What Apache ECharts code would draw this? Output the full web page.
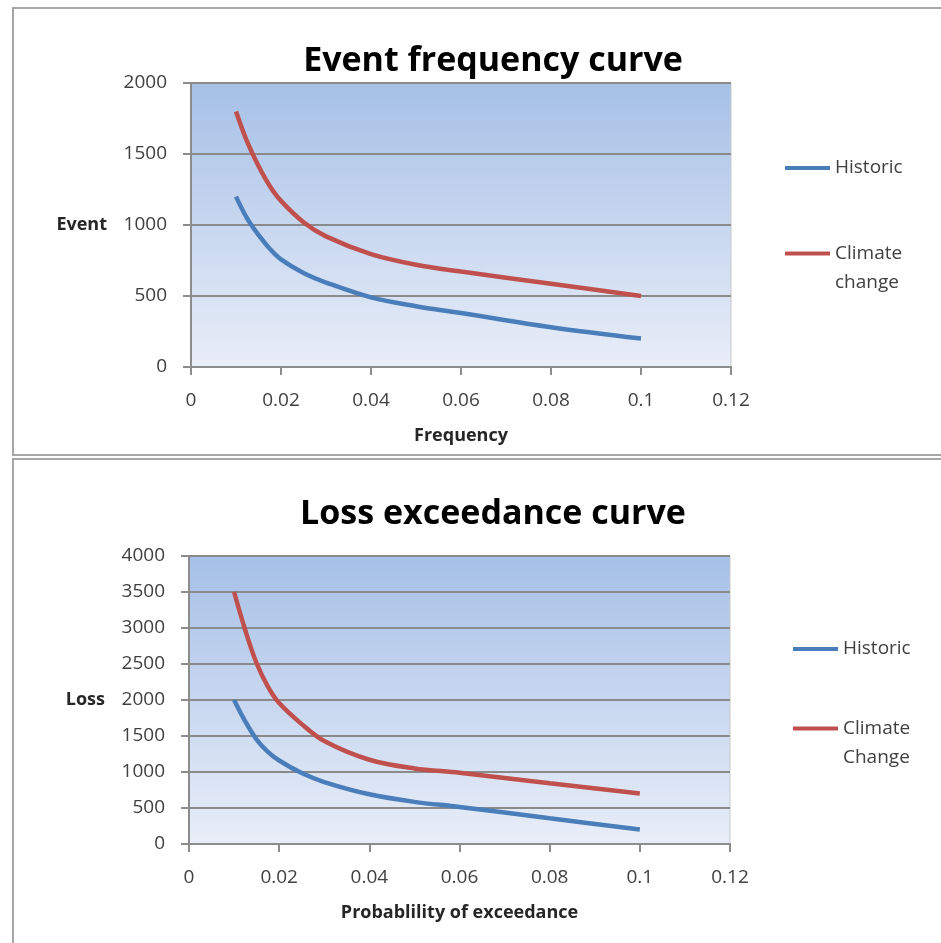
<!DOCTYPE html>
<html>
<head>
<meta charset="utf-8">
<script src="https://cdn.jsdelivr.net/npm/echarts@6/dist/echarts.min.js"></script>
<style>
  html, body { margin: 0; padding: 0; background: #fff; }
  #main { width: 941px; height: 943px; }
</style>
</head>
<body>
<div id="main"></div>
<script>
// x values shared by both charts
const probs = [0.01, 0.0125, 0.015, 0.0175, 0.02, 0.025, 0.03, 0.04, 0.05, 0.06, 0.08, 0.1]
// Event frequency curve
const eventHistoric = [1200, 1045, 930, 833, 758, 662, 595, 490, 428, 380, 280, 200]
const eventClimate = [1800, 1585, 1415, 1275, 1170, 1020, 920, 795, 720, 672, 587, 500]
// Loss exceedance curve
const lossHistoric = [2000, 1700, 1450, 1280, 1160, 985, 860, 690, 585, 515, 357, 200]
const lossClimate = [3500, 2965, 2510, 2187, 1957, 1665, 1430, 1170, 1050, 990, 843, 700]

const font = '"Open Sans", "Noto Sans", sans-serif'
const blue = '#4a7ebb'
const red = '#c0504d'

function pairs(xs, ys) {
  return xs.map((x, i) => [x, ys[i]])
}

let plotBg = new echarts.graphic.LinearGradient(0, 0, 0, 1, [
  { offset: 0, color: '#a6c0e7' },
  { offset: 1, color: '#e9eef8' }
])

function xAxisOpt(idx, name) {
  return {
    type: 'value',
    gridIndex: idx,
    min: 0,
    max: 0.12,
    interval: 0.02,
    name: name,
    nameLocation: 'middle',
    nameGap: 60,
    nameTextStyle: { fontFamily: font, fontWeight: 'bold', fontSize: 18, color: '#262626' },
    axisLine: { lineStyle: { color: '#8c8c8c', width: 2 } },
    axisTick: { show: true, length: 8, lineStyle: { color: '#8c8c8c', width: 2 } },
    axisLabel: { fontFamily: font, fontSize: 19, color: '#404040', margin: 24 },
    splitLine: { show: false }
  }
}

function yAxisOpt(idx, name, max) {
  return {
    type: 'value',
    gridIndex: idx,
    min: 0,
    max: max,
    interval: 500,
    name: name,
    nameLocation: 'middle',
    nameRotate: 0,
    nameGap: 84,
    nameTextStyle: { fontFamily: font, fontWeight: 'bold', fontSize: 18, color: '#262626' },
    axisLine: { show: true, lineStyle: { color: '#8c8c8c', width: 2 } },
    axisTick: { show: true, length: 8, lineStyle: { color: '#8c8c8c', width: 2 } },
    axisLabel: { fontFamily: font, fontSize: 19, color: '#404040', margin: 24, formatter: v => String(v) },
    splitLine: { show: true, lineStyle: { color: '#8a8a8a', width: 2 } }
  }
}

function lineSeries(name, idx, data, color) {
  return {
    name: name,
    type: 'line',
    xAxisIndex: idx,
    yAxisIndex: idx,
    data: data,
    smooth: 0.35,
    showSymbol: false,
    lineStyle: { color: color, width: 4.5 },
    itemStyle: { color: color }
  }
}

// multi-line names get a blank first line so the marker sits beside the first word
function legendOpt(names, left, top, multi) {
  return {
    data: names,
    left: left,
    top: top,
    padding: 0,
    orient: 'vertical',
    icon: 'rect',
    itemWidth: 45,
    itemHeight: 4,
    textStyle: { fontFamily: font, fontSize: 19, color: '#404040', lineHeight: multi ? 29 : 20 },
    formatter: n => multi ? '\n' + n.replace(' ', '\n') : n
  }
}

let chart = echarts.init(document.getElementById('main'))
chart.setOption({
  animation: false,
  backgroundColor: '#fff',
  graphic: [
    { type: 'rect', shape: { x: 13, y: 8, width: 940, height: 447 }, style: { fill: 'none', stroke: '#a6a6a6', lineWidth: 2 }, z: -10 },
    { type: 'rect', shape: { x: 13, y: 459, width: 940, height: 500 }, style: { fill: 'none', stroke: '#a6a6a6', lineWidth: 2 }, z: -10 }
  ],
  title: [
    { text: 'Event frequency curve', left: 488, top: 39, textAlign: 'center',
      textStyle: { fontFamily: font, fontWeight: 'bold', fontSize: 34, color: '#000' } },
    { text: 'Loss exceedance curve', left: 488, top: 492, textAlign: 'center',
      textStyle: { fontFamily: font, fontWeight: 'bold', fontSize: 34, color: '#000' } }
  ],
  legend: [
    legendOpt(['Historic'], 785, 158, false),
    legendOpt(['Climate change'], 785, 210, true),
    legendOpt(['Historic'], 793, 639, false),
    legendOpt(['Climate Change'], 793, 685, true)
  ],
  grid: [
    { left: 191, top: 83, width: 540, height: 284, show: true, backgroundColor: plotBg, borderColor: '#c8c8c8', borderWidth: 1 },
    { left: 189, top: 556, width: 541, height: 288, show: true, backgroundColor: plotBg, borderColor: '#c8c8c8', borderWidth: 1 }
  ],
  xAxis: [xAxisOpt(0, 'Frequency'), xAxisOpt(1, 'Probablility of exceedance')],
  yAxis: [yAxisOpt(0, 'Event', 2000), yAxisOpt(1, 'Loss', 4000)],
  series: [
    lineSeries('Historic', 0, pairs(probs, eventHistoric), blue),
    lineSeries('Climate change', 0, pairs(probs, eventClimate), red),
    lineSeries('Historic', 1, pairs(probs, lossHistoric), blue),
    lineSeries('Climate Change', 1, pairs(probs, lossClimate), red)
  ]
})
</script>
</body>
</html>
